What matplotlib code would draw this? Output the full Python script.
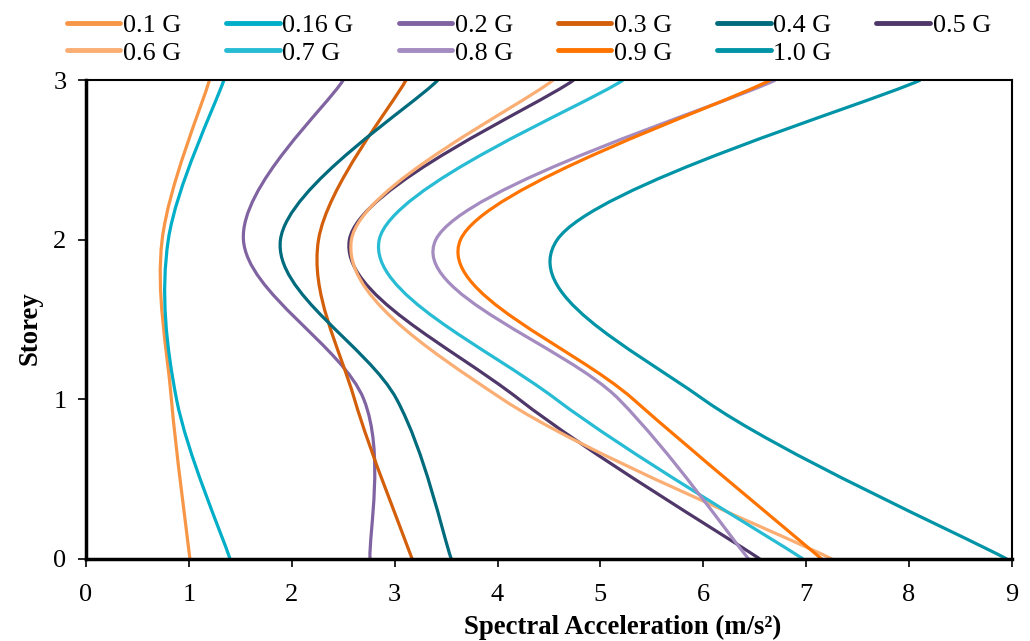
import matplotlib
matplotlib.use("Agg")
import matplotlib.pyplot as plt
from matplotlib.path import Path
from matplotlib.patches import PathPatch
from matplotlib.lines import Line2D

plt.rcParams['font.family'] = ['Liberation Serif', 'DejaVu Serif']

# storey levels and spectral acceleration (m/s2)
storey = [0, 1, 2, 3]
labels = ['0.1 G', '0.16 G', '0.2 G', '0.3 G', '0.4 G', '0.5 G',
          '0.6 G', '0.7 G', '0.8 G', '0.9 G', '1.0 G']
g01 = [1.01, 0.83, 0.74, 1.20]
g016 = [1.40, 0.88, 0.80, 1.34]
g02 = [2.76, 2.70, 1.53, 2.50]
g03 = [3.17, 2.61, 2.26, 3.11]
g04 = [3.55, 3.02, 1.89, 3.42]
g05 = [6.55, 4.21, 2.56, 4.74]
g06 = [7.25, 4.05, 2.58, 4.54]
g07 = [6.97, 4.57, 2.85, 5.22]
g08 = [6.44, 5.18, 3.40, 6.70]
g09 = [7.15, 5.32, 3.64, 6.65]
g10 = [8.95, 6.00, 4.58, 8.11]
series = [g01, g016, g02, g03, g04, g05, g06, g07, g08, g09, g10]
colors = ['#F79646', '#00AEC7', '#8064A2', '#D35F0B', '#006B7D', '#4F3869',
          '#FBAE74', '#27BCD4', '#A48BC0', '#FF7400', '#0094A6']


def smooth_path(xs, ys):
    # Excel style smoothed line: Catmull-Rom converted to cubic Bezier
    pts = list(zip(xs, ys))
    verts = [pts[0]]
    codes = [Path.MOVETO]
    n = len(pts)
    for i in range(n - 1):
        p0 = pts[max(i - 1, 0)]
        p1 = pts[i]
        p2 = pts[i + 1]
        p3 = pts[min(i + 2, n - 1)]
        c1 = (p1[0] + (p2[0] - p0[0]) / 6, p1[1] + (p2[1] - p0[1]) / 6)
        c2 = (p2[0] - (p3[0] - p1[0]) / 6, p2[1] - (p3[1] - p1[1]) / 6)
        verts += [c1, c2, p2]
        codes += [Path.CURVE4] * 3
    return Path(verts, codes)


fig = plt.figure(figsize=(10.3, 6.41), dpi=100)
ax = fig.add_axes([0.0835, 0.128, 0.899, 0.747])

handles = []
for vals, lab, col in zip(series, labels, colors):
    ax.add_patch(PathPatch(smooth_path(vals, storey), facecolor='none',
                           edgecolor=col, lw=2.3, capstyle='butt'))
    handles.append(Line2D([], [], color=col, lw=3.5, solid_capstyle='round', label=lab))

ax.set_xlim(0, 9)
ax.set_ylim(0, 3)
ax.set_xticks(range(0, 10))
ax.set_yticks([0, 1, 2, 3])
ax.tick_params(axis='x', direction='out', length=6, width=1.2, labelsize=19, pad=12)
ax.tick_params(axis='y', direction='out', length=6, width=1.2, labelsize=19, pad=8)
for s in ['left', 'bottom']:
    ax.spines[s].set_linewidth(2.5)
for s in ['top', 'right']:
    ax.spines[s].set_linewidth(1.5)

ax.set_xlabel('Spectral Acceleration (m/s²)', fontsize=19.3, fontweight='bold')
ax.set_ylabel('Storey', fontsize=19.3, fontweight='bold')
ax.xaxis.set_label_coords(0.579, -0.117)
ax.yaxis.set_label_coords(-0.047, 0.482)

# row-wise legend order with 6 columns
order = [0, 6, 1, 7, 2, 8, 3, 9, 4, 10, 5]
fig.legend([handles[i] for i in order], [labels[i] for i in order],
           loc='upper left', bbox_to_anchor=(0.065, 0.978), ncol=6, frameon=False,
           fontsize=18.8, handlelength=2.05, handletextpad=0.1, columnspacing=1.72,
           labelspacing=0.15, borderaxespad=0, borderpad=0)

fig.savefig('out.png', dpi=100)
